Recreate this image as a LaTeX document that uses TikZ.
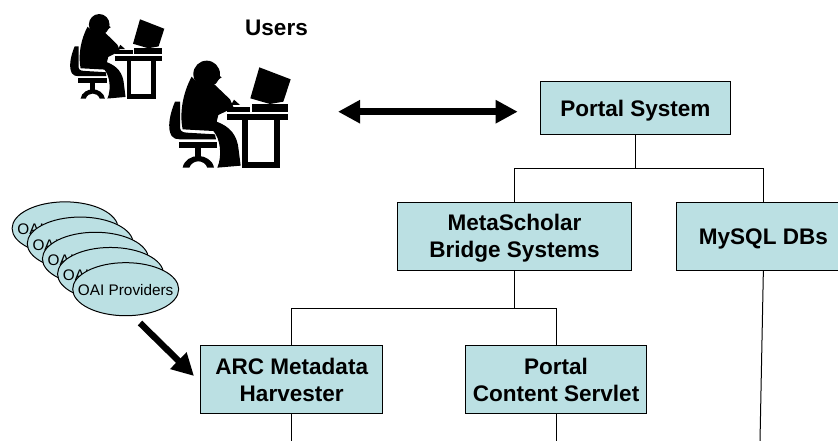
\documentclass[tikz,border=0pt]{standalone}
\usepackage{fontspec}
\setmainfont{Liberation Sans}
\usetikzlibrary{shapes.geometric, arrows.meta, positioning}

\begin{document}
\begin{tikzpicture}[
  x=0.75pt, y=-0.75pt,
  >={Triangle[length=16.5pt, width=16.5pt]},
  sysnode/.style={draw, rectangle, fill=paleteal, line width=0.75pt, inner sep=0pt, outer sep=0pt, text depth=0pt, align=center, font=\fontsize{16.9}{20.3}\selectfont\bfseries},
  provnode/.style={draw, ellipse, fill=paleteal, line width=0.75pt, inner xsep=-15pt, inner ysep=-2pt, text height=9.8pt, minimum width=79.5pt, minimum height=39.8pt, font=\fontsize{11.5}{13.8}\selectfont},
  link/.style={line width=0.75pt},
  flow/.style={<->, line width=4.8pt},
  flow2/.style={->, line width=4.8pt},
  userdesk/.pic={
    \begin{scope}[scale=1/3, shift={(-507,-177)}]
      % head and nose
      \fill (620,222) circle (40);
      \fill (650,222) -- (665,232) -- (650,242) -- cycle;
      % body, arm and leg
      \fill (575,230) .. controls (590,250) and (620,258) .. (645,255)
        -- (690,298) -- (700,320) -- (680,333) -- (655,345) -- (650,365)
        .. controls (690,380) and (712,405) .. (716,450)
        -- (722,497) -- (652,503) .. controls (668,465) and (660,415) .. (640,393)
        -- (548,388) .. controls (538,340) and (548,280) .. cycle;
      % chair
      \fill (525,305) .. controls (510,340) and (500,385) .. (515,408)
        .. controls (520,416) and (530,418) .. (540,418) -- (648,418) -- (645,403)
        -- (560,398) .. controls (545,397) and (540,392) .. (540,380) -- (540,305) -- cycle;
      \fill (537,426) rectangle (650,443);
      \fill (585,443) rectangle (603,478);
      \fill (548,503) .. controls (552,480) and (575,468) .. (595,468)
        .. controls (615,468) and (638,480) .. (642,503) -- (622,503)
        .. controls (618,490) and (605,484) .. (595,484)
        .. controls (585,484) and (572,490) .. (568,503) -- cycle;
      % keyboard and hand
      \fill (680,320) rectangle (750,335);
      \fill (693,315) -- (702,299) -- (720,315) -- cycle;
      % monitor and desk
      \fill (778,202) -- (872,238) -- (850,305) -- (810,312) -- (751,295) -- cycle;
      \fill (756,312) rectangle (864,335);
      \fill (680,341) rectangle (864,359);
      \fill (726,359) rectangle (745,503);
      \fill (822,359) rectangle (840,503);
      \fill (726,486) rectangle (840,503);
    \end{scope}
  }
]
\definecolor{paleteal}{RGB}{187,224,227}
\clip (0,0) rectangle (838,441);

% users
\pic[xscale=0.775, yscale=0.79] at (70,12.7) {userdesk};
\pic at (169,59) {userdesk};
\node[font=\fontsize{16.9}{20.3}\selectfont\bfseries] (Users) at (276.5,27.5) {Users};

% system boxes
\node[sysnode, minimum width=142pt, minimum height=39.5pt] (Portal) at (635.4,108) {Portal System};
\node[sysnode, minimum width=175.8pt, minimum height=51pt] (Bridge) at (514.5,236.3) {MetaScholar\\Bridge Systems};
\node[sysnode, minimum width=129.9pt, minimum height=51pt] (MySQL) [right=33.8pt of Bridge] {MySQL DBs};
\node[sysnode, minimum width=136.5pt, minimum height=51.2pt] (Harvester) at (291.7,379.8) {ARC Metadata\\Harvester};
\node[sysnode, minimum width=136pt, minimum height=51.2pt] (Servlet) [right=62pt of Harvester] {Portal\\Content Servlet};

% providers, back to front
\foreach \k in {4,3,2,1} {
  \node[provnode] (Prov\k) at ({125.7-15.15*\k},{289.2-15.2*\k}) {OAI Providers};
}
\node[provnode] (Prov) at (125.7,289.2) {OAI Providers};

% junctions and free ends
\coordinate (PortalBus) at (635.4,168.3);
\coordinate (BridgeBus) at (514.5,308.3);
\coordinate (HarvesterEnd) at (291.7,441);
\coordinate (ServletEnd) at (Servlet |- HarvesterEnd);
\coordinate (MySQLEnd) at (760,441);
\coordinate (UsersGate) at (338,111.7);
\coordinate (PortalGate) at (517.7,111.7);
\coordinate (ProvOut) at (140,323);
\coordinate (ArcIn) at (194,376);

% tree lines
\draw[link] (Portal) -- (PortalBus);
\draw[link] (Bridge.north) |- (PortalBus);
\draw[link] (MySQL.north) |- (PortalBus);
\draw[link] (Bridge) -- (BridgeBus);
\draw[link] (Harvester.north) |- (BridgeBus);
\draw[link] (Servlet.north) |- (BridgeBus);
\draw[link] (Harvester) -- (HarvesterEnd);
\draw[link] (Servlet) -- (ServletEnd);
\draw[link] (MySQL.south) -- (MySQLEnd);

% thick arrows
\draw[flow] (UsersGate) -- (PortalGate);
\draw[flow2] (ProvOut) -- (ArcIn);

\end{tikzpicture}
\end{document}
